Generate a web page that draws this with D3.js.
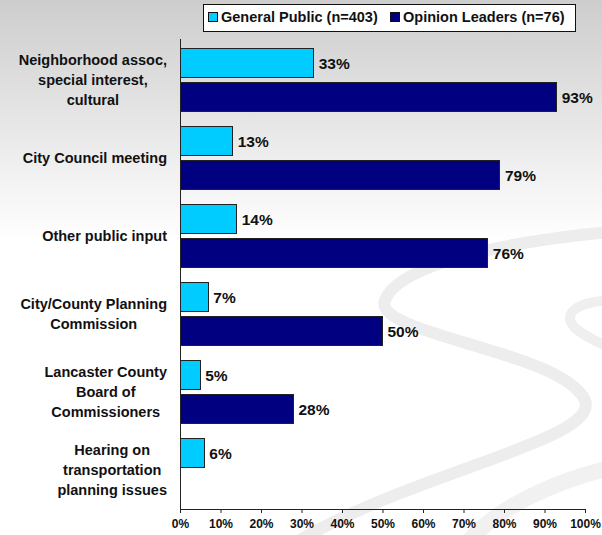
<!DOCTYPE html>
<html lang="en">
<head>
<meta charset="UTF-8">
<title>Public input participation</title>
<script src="https://d3js.org/d3.v7.min.js"></script>
<style>
body, html { margin: 0; padding: 0; }
text { font-family: "Liberation Sans", Arial, Helvetica, sans-serif; font-weight: bold; fill: #111; }
.catLabel { font-size: 14.5px; }
.valLabel { font-size: 15.5px; }
.legendText { font-size: 14.5px; }
.x.axis text { font-size: 12px; font-weight: bold; fill: #111; }
.x.axis path, .x.axis line { stroke: #222; }
.bar { stroke: #222; stroke-width: 1px; shape-rendering: crispEdges; }
</style>
</head>
<body>
<script>
// data
var categories = [
	["Neighborhood assoc,", "special interest,", "cultural"],
	["City Council meeting"],
	["Other public input"],
	["City/County Planning", "Commission"],
	["Lancaster County", "Board of", "Commissioners"],
	["Hearing on", "transportation", "planning issues"]
];
var seriesNames = ["General Public (n=403)", "Opinion Leaders (n=76)"];
var generalPublic = [33, 13, 14, 7, 5, 6];
var opinionLeaders = [93, 79, 76, 50, 28, null];
var xTicks = [0, 10, 20, 30, 40, 50, 60, 70, 80, 90, 100];
var colors = ["#00CCFF", "#000080"];

var w = 602, h = 535;
var margin = {top: 41, right: 17, bottom: 26, left: 180};

var svg = d3.select("body").append("svg")
	.attr("width", w)
	.attr("height", h);

// background gradient
var defs = svg.append("defs");
var grad = defs.append("linearGradient")
	.attr("id", "bg")
	.attr("x1", 0).attr("y1", 0).attr("x2", 0).attr("y2", 1);
grad.append("stop").attr("offset", "0%").attr("stop-color", "#cdcdcd");
grad.append("stop").attr("offset", "45%").attr("stop-color", "#ffffff");
grad.append("stop").attr("offset", "100%").attr("stop-color", "#ffffff");

svg.append("rect")
	.attr("width", w).attr("height", h)
	.attr("fill", "url(#bg)");

// swoosh decoration (faint)
var deco = svg.append("g").attr("fill", "none").attr("stroke-linecap", "round");
deco.append("path")
	.attr("d", "M610,232 C520,240 400,262 385,300 C372,335 560,350 585,400 C600,440 420,470 300,540")
	.attr("stroke", "#ededed").attr("stroke-width", 12);
deco.append("path")
	.attr("d", "M610,300 C580,302 560,312 575,328 C590,340 605,345 610,348")
	.attr("stroke", "#efefef").attr("stroke-width", 10);
deco.append("path")
	.attr("d", "M610,468 C560,480 500,505 470,540")
	.attr("stroke", "#f1f1f1").attr("stroke-width", 16);

var width = w - margin.left - margin.right;
var height = h - margin.top - margin.bottom;

var chart = svg.append("g")
	.attr("transform", "translate(" + margin.left + "," + margin.top + ")");

var x = d3.scaleLinear().domain([0, 100]).range([0, width]);

var y0 = d3.scaleBand()
	.domain(d3.range(categories.length))
	.range([0, height])
	.paddingInner(0.18)
	.paddingOuter(0.09);

var y1 = d3.scaleBand()
	.domain([0, 1])
	.range([0, y0.bandwidth()])
	.paddingInner(0.118);

// x axis
var xAxis = d3.axisBottom(x)
	.tickValues(xTicks)
	.tickSize(4)
	.tickPadding(6)
	.tickFormat(function(d){ return d + "%"; });

chart.append("g")
	.classed("x axis", true)
	.attr("transform", "translate(0," + height + ")")
	.call(xAxis);

// y axis line
chart.append("line")
	.attr("x1", 0).attr("x2", 0)
	.attr("y1", -2).attr("y2", height)
	.attr("stroke", "#222")
	.attr("shape-rendering", "crispEdges");

var series = [generalPublic, opinionLeaders];

series.forEach(function(vals, s){
	var rows = vals.map(function(v, i){ return {i: i, v: v}; })
		.filter(function(d){ return d.v !== null; });

	chart.selectAll(".bar" + s)
		.data(rows)
		.enter()
			.append("rect")
			.attr("class", "bar bar" + s)
			.attr("x", x(0))
			.attr("y", function(d){ return y0(d.i) + y1(s); })
			.attr("width", function(d){ return x(d.v) - x(0); })
			.attr("height", y1.bandwidth())
			.style("fill", colors[s]);

	chart.selectAll(".val" + s)
		.data(rows)
		.enter()
			.append("text")
			.attr("class", "valLabel val" + s)
			.attr("x", function(d){ return x(d.v) + 5; })
			.attr("y", function(d){ return y0(d.i) + y1(s) + y1.bandwidth() / 2; })
			.attr("dy", "0.36em")
			.text(function(d){ return d.v + "%"; });
});

// category labels: block right-aligned, lines centered in the block
var lineH = 20;
categories.forEach(function(lines, i){
	var g = svg.append("g");
	var cy = margin.top + y0(i) + y0.bandwidth() / 2;
	var texts = g.selectAll("text")
		.data(lines)
		.enter()
			.append("text")
			.attr("class", "catLabel")
			.attr("text-anchor", "middle")
			.attr("y", function(d, k){ return cy + (k - (lines.length - 1) / 2) * lineH; })
			.attr("dy", "0.36em")
			.text(function(d){ return d; });
	var maxW = 0;
	texts.each(function(){ maxW = Math.max(maxW, this.getComputedTextLength()); });
	texts.attr("x", 167 - maxW / 2);
});

// legend
var legend = svg.append("g");
legend.append("rect")
	.attr("x", 203.5).attr("y", 4.5)
	.attr("width", 372).attr("height", 27)
	.attr("fill", "white")
	.attr("stroke", "#111");

var legX = [208, 390];
seriesNames.forEach(function(name, s){
	legend.append("rect")
		.attr("x", legX[s] + 0.5).attr("y", 12.5)
		.attr("width", 9).attr("height", 9)
		.attr("fill", colors[s])
		.attr("stroke", "#111");
	legend.append("text")
		.attr("class", "legendText")
		.attr("x", legX[s] + 13)
		.attr("y", 17)
		.attr("dy", "0.36em")
		.text(name);
});
</script>
</body>
</html>
